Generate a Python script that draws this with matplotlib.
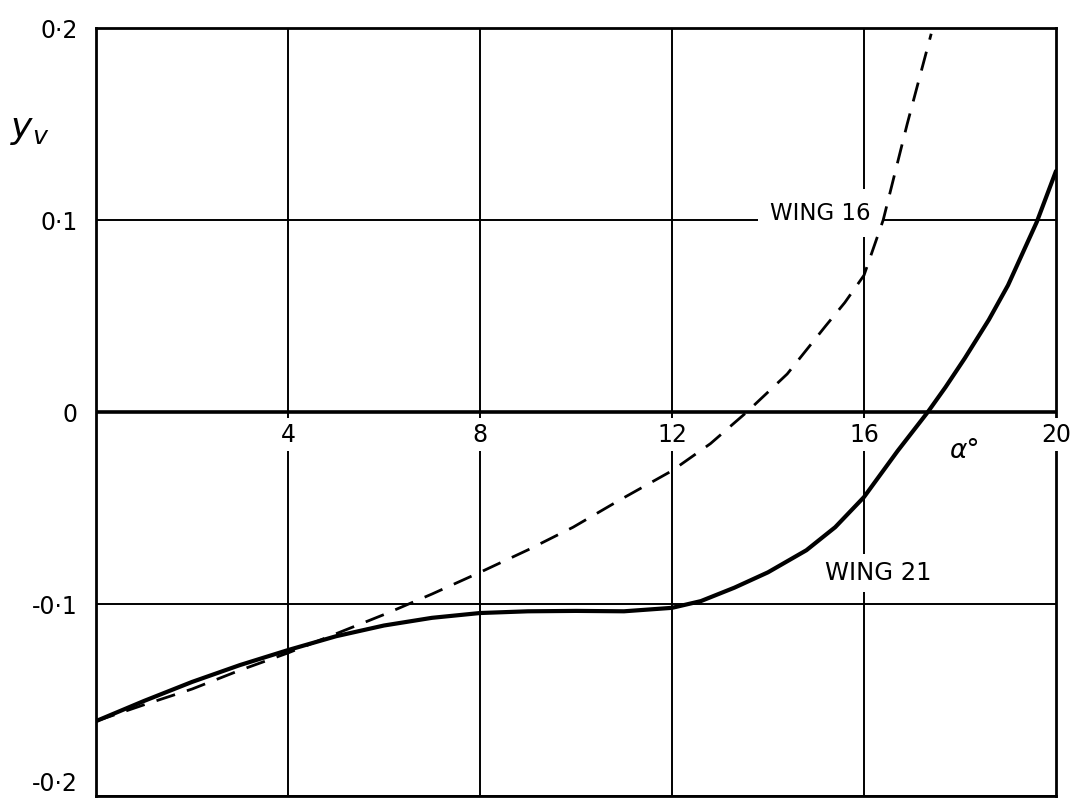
import matplotlib
matplotlib.use("Agg")
import matplotlib.pyplot as plt

# values (alpha in degrees, y_v)
wing21_alpha = [0, 1, 2, 3, 4, 5, 6, 7, 8, 9, 10, 11, 12, 12.6, 13.3, 14, 14.8, 15.4,
                16, 16.7, 17.33, 17.7, 18.1, 18.6, 19, 19.6, 20]
wing21_yv = [-0.161, -0.1505, -0.1406, -0.1318, -0.124, -0.1168, -0.1112, -0.1072, -0.1047,
             -0.1038, -0.1036, -0.1038, -0.102, -0.0985, -0.0915, -0.0835, -0.072, -0.060,
             -0.0443, -0.0203, 0.0, 0.013, 0.028, 0.048, 0.066, 0.099, 0.1255]

wing16_alpha = [0, 1, 2, 3, 4, 5, 6, 7, 8, 9, 9.94, 10.9, 12, 12.8, 13.56, 14.4, 15.2, 15.6,
                16, 16.4, 16.9, 17.4]
wing16_yv = [-0.161, -0.1525, -0.1443, -0.1345, -0.1255, -0.1155, -0.1055, -0.0948, -0.0835,
             -0.0718, -0.060, -0.046, -0.0306, -0.0165, 0.0, 0.0198, 0.0448, 0.057,
             0.0712, 0.1, 0.15, 0.197]

x_ticks = [4, 8, 12, 16, 20]
x_ticklabels = ["4", "8", "12", "16", "20"]
y_ticks = [-0.2, -0.1, 0, 0.1, 0.2]
y_ticklabels = ["-0·2", "-0·1", "0", "0·1", "0·2"]

plt.rcParams['font.family'] = ['DejaVu Sans']

fig = plt.figure(figsize=(10.78, 8.06), dpi=100)
ax = fig.add_axes([96 / 1078, 10 / 806, 960 / 1078, 768 / 806])

ax.set_xlim(0, 20)
ax.set_ylim(-0.2, 0.2)

for s in ax.spines.values():
    s.set_linewidth(2.0)
    s.set_color('black')

# grid
ax.set_xticks(x_ticks[:-1])
ax.set_xticklabels([])
ax.set_yticks(y_ticks)
ax.set_yticklabels(y_ticklabels, fontsize=17)
ax.get_yticklabels()[0].set_verticalalignment('bottom')
ax.tick_params(axis='both', length=0)
ax.tick_params(axis='y', pad=13)
ax.grid(True, color='black', lw=1.4, zorder=1)
ax.set_axisbelow(True)
ax.axhline(0, color='black', lw=2.6, zorder=2)

# curves
ax.plot(wing21_alpha, wing21_yv, color='black', lw=3.0, zorder=5,
        solid_capstyle='round', solid_joinstyle='round')
ax.plot(wing16_alpha, wing16_yv, color='black', lw=2.0, zorder=5,
        linestyle=(0, (7, 4.5)))

# alpha labels sit just under the zero line
box = dict(facecolor='white', edgecolor='none', pad=3)
for xv, lab in zip(x_ticks, x_ticklabels):
    ax.text(xv, -0.0055, lab, ha='center', va='top', fontsize=17,
            bbox=box, zorder=3, clip_on=False)

ax.text(18.1, -0.0205, "α°", ha='center', va='center', fontsize=19,
        style='italic', zorder=3)

ax.text(15.1, 0.1035, "WING 16", ha='center', va='center', fontsize=16.5,
        bbox=dict(facecolor='white', edgecolor='none', pad=9), zorder=3)
ax.text(16.3, -0.0840, "WING 21", ha='center', va='center', fontsize=17.5,
        bbox=dict(facecolor='white', edgecolor='none', pad=5), zorder=3)

fig.text(30 / 1078, 1 - 130 / 806, "$y_v$", ha='center', va='center', fontsize=26)

fig.savefig("out.png", dpi=100)
